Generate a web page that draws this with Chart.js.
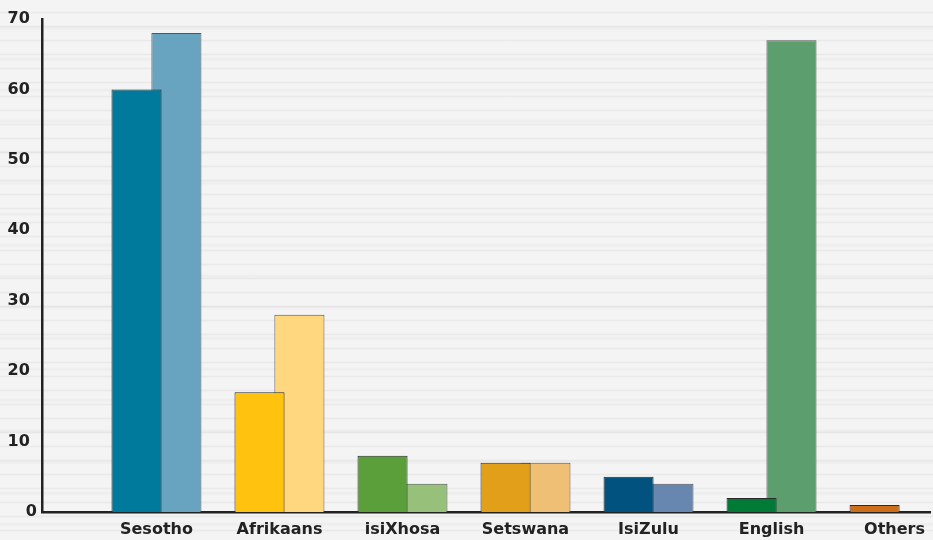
<!DOCTYPE html>
<html><head><meta charset="utf-8">
<script src="https://cdn.jsdelivr.net/npm/chart.js@4/dist/chart.umd.min.js"></script>
<style>
html,body{margin:0;padding:0;}
body{width:933px;height:540px;overflow:hidden;background:#f4f4f4;}
#wrap{position:relative;width:933px;height:540px;background-color:#f4f4f4;
background-image:
repeating-linear-gradient(180deg, rgba(0,0,0,0) 0px, rgba(0,0,0,0) 11px, rgba(0,0,0,0.045) 12.5px, rgba(0,0,0,0) 14px),
repeating-linear-gradient(180deg, rgba(0,0,0,0) 0px, rgba(0,0,0,0) 26px, rgba(0,0,0,0.03) 28px, rgba(0,0,0,0) 31px);}
canvas{display:block;}
</style></head>
<body><div id="wrap"><canvas id="c" width="933" height="540"></canvas></div>
<script>
const categories = ['Sesotho','Afrikaans','isiXhosa','Setswana','IsiZulu','English','Others'];
const seriesA = [60, 17, 8, 7, 5, 2, 1];
const seriesB = [68, 28, 4, 7, 4, 67, null];
const yTicks = [0, 10, 20, 30, 40, 50, 60, 70];

const colorsA = ['#007a9c','#fec20f','#5a9f3a','#e19f1a','#02527f','#007a37','#cc6e1a'];
const colorsB = ['#68a3bf','#fed77e','#97c07a','#eebf74','#6887b0','#5c9e6e','#e8a060'];

const positions = categories.map((c, i) => i + 1);
const labelFont = {family: '"DejaVu Sans", sans-serif', size: 16, weight: 'bold'};

new Chart(document.getElementById('c'), {
  type: 'bar',
  data: {
    labels: positions,
    datasets: [
      {data: seriesA, backgroundColor: colorsA, borderColor: '#2a2a2a', borderWidth: 1,
       categoryPercentage: 0.6487, barPercentage: 1.255},
      {data: seriesB, backgroundColor: colorsB, borderColor: '#555555', borderWidth: 1,
       categoryPercentage: 0.6487, barPercentage: 1.255}
    ]
  },
  options: {
    responsive: false,
    animation: false,
    layout: {padding: {top: 19, right: 0, left: 0, bottom: 0}},
    plugins: {legend: {display: false}, tooltip: {enabled: false}},
    scales: {
      x: {
        type: 'linear', min: 0.0696, max: 7.294, bounds: 'data', offset: false,
        grid: {display: false, drawTicks: false, offset: false},
        border: {display: true, color: '#222222', width: 2.5},
        afterBuildTicks: s => { s.ticks = positions.map(v => ({value: v})); },
        afterFit: s => { s.height = 28; },
        ticks: {callback: v => categories[v - 1] ?? '', color: '#222222', font: labelFont,
                padding: 8, maxRotation: 0, autoSkip: false}
      },
      y: {
        min: 0, max: 70,
        afterBuildTicks: s => { s.ticks = yTicks.map(v => ({value: v})); },
        afterFit: s => { s.width = 42; },
        grid: {display: false, drawTicks: false},
        border: {display: true, color: '#222222', width: 2.5},
        ticks: {callback: v => v === 0 ? '0' : v + ' \u200A', color: '#222222', font: labelFont, padding: 5}
      }
    }
  }
});
</script>
</body></html>
